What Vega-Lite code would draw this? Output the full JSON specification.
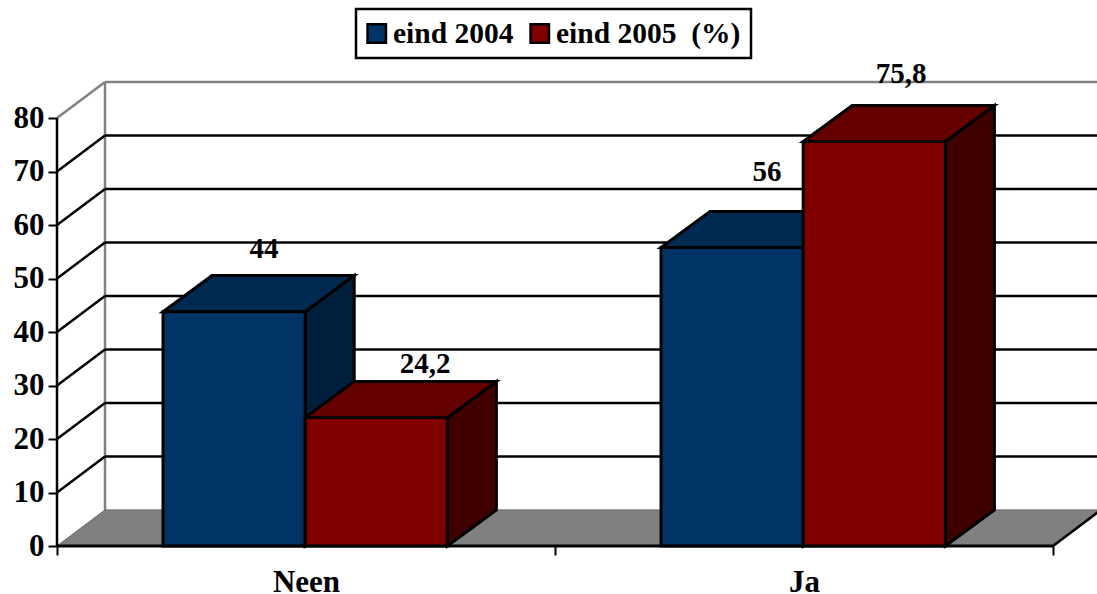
{
"$schema":"https://vega.github.io/schema/vega-lite/v6.json",
"width":1097,"height":594,"padding":0,"autosize":{"type":"none"},"background":"white",
"config":{"view":{"stroke":null},"legend":{"strokeWidth":2.5},"font":"Liberation Serif"},
"datasets":{
"bars":[
{"cat":"Neen","series":"eind 2004","value":44},
{"cat":"Neen","series":"eind 2005\u00a0 (%)\u00a0\u00a0","value":24.2},
{"cat":"Ja","series":"eind 2004","value":56},
{"cat":"Ja","series":"eind 2005\u00a0 (%)\u00a0\u00a0","value":75.8}],
"ticks":[{"v":0},{"v":10},{"v":20},{"v":30},{"v":40},{"v":50},{"v":60},{"v":70},{"v":80}]
},
"transform":[],
"encoding":{
"x":{"field":"px","type":"quantitative","scale":{"domain":[-0.11446,2.08835],"nice":false,"zero":false},"axis":{"orient":"bottom","offset":-48,"title":null,"domain":false,"grid":false,"values":[0,0.5,1,1.5,2],"tickSize":9,"tickWidth":2,"tickColor":"black","tickOpacity":{"condition":{"test":"datum.value==0.5||datum.value==1.5","value":0},"value":1},"labelExpr":"datum.value==0.5?'Neen':datum.value==1.5?'Ja':''","labelFont":"Liberation Serif","labelFontWeight":"bold","labelFontSize":31,"labelColor":"black","labelPadding":12,"labelOverlap":false,"labelFlush":false,"labelBound":false}},
"y":{"field":"py","type":"quantitative","scale":{"domain":[-8.97,102.06],"nice":false,"zero":false},"axis":{"orient":"left","offset":-57,"title":null,"domain":false,"grid":false,"values":[0,10,20,30,40,50,60,70,80],"tickSize":9,"tickWidth":2,"tickColor":"black","labelFont":"Liberation Serif","labelFontWeight":"bold","labelFontSize":31,"labelColor":"black","labelPadding":4,"labelOverlap":false,"labelBound":false}}
},
"layer":[
{"data":{"name":"ticks"},
 "transform":[{"filter":"datum.v==80"},{"calculate":"0.0964","as":"px"},{"calculate":"2.1","as":"px2"},{"calculate":"datum.v+6.75","as":"py"}],
 "mark":{"type":"rule","color":"#808080","strokeWidth":2.5},
 "encoding":{"x2":{"field":"px2"}}},
{"data":{"name":"ticks"},
 "transform":[{"filter":"datum.v==80"},{"calculate":"0.0964","as":"px"},{"calculate":"6.75","as":"py"},{"calculate":"datum.v+6.75","as":"py2"}],
 "mark":{"type":"rule","color":"#808080","strokeWidth":2.5},
 "encoding":{"y2":{"field":"py2"}}},
{"data":{"name":"ticks"},
 "transform":[{"filter":"datum.v==80"},{"calculate":"[0,1]","as":"t"},{"flatten":["t"]},{"calculate":"datum.t*0.0964","as":"px"},{"calculate":"datum.v+datum.t*6.75","as":"py"}],
 "mark":{"type":"line","color":"#808080","strokeWidth":2.5},
 "encoding":{}},
{"data":{"name":"ticks"},
 "transform":[{"filter":"datum.v>0&&datum.v<80"},{"calculate":"0.0964","as":"px"},{"calculate":"2.1","as":"px2"},{"calculate":"datum.v+6.75","as":"py"}],
 "mark":{"type":"rule","color":"black","strokeWidth":2.5},
 "encoding":{"x2":{"field":"px2"}}},
{"data":{"name":"ticks"},
 "transform":[{"filter":"datum.v>0&&datum.v<80"},{"calculate":"[0,1]","as":"t"},{"flatten":["t"]},{"calculate":"datum.t*0.0964","as":"px"},{"calculate":"datum.v+datum.t*6.75","as":"py"}],
 "mark":{"type":"line","color":"black","strokeWidth":2.5},
 "encoding":{"detail":{"field":"v"}}},
{"data":{"name":"ticks"},
 "transform":[{"filter":"datum.v==0"},{"calculate":"[0,1]","as":"t"},{"flatten":["t"]},{"calculate":"datum.t*0.0964","as":"px"},{"calculate":"2+datum.t*0.0964","as":"px2"},{"calculate":"datum.t*6.75","as":"py"}],
 "mark":{"type":"area","orient":"horizontal","fill":"#808080","stroke":"#666666","strokeWidth":1},
 "encoding":{"x2":{"field":"px2"}}},
{"data":{"name":"ticks"},
 "transform":[{"filter":"datum.v==0"},{"calculate":"[0,1]","as":"t"},{"flatten":["t"]},{"calculate":"2+datum.t*0.0964","as":"px"},{"calculate":"datum.t*6.75","as":"py"}],
 "mark":{"type":"line","color":"black","strokeWidth":2.5},
 "encoding":{}},
{"data":{"name":"ticks"},
 "transform":[{"filter":"datum.v==0"},{"calculate":"0","as":"px"},{"calculate":"0","as":"py"},{"calculate":"80","as":"py2"}],
 "mark":{"type":"rule","color":"black","strokeWidth":2.5},
 "encoding":{"y2":{"field":"py2"}}},
{"data":{"name":"ticks"},
 "transform":[{"filter":"datum.v==0"},{"calculate":"0","as":"px"},{"calculate":"2","as":"px2"},{"calculate":"0","as":"py"}],
 "mark":{"type":"rule","color":"black","strokeWidth":3},
 "encoding":{"x2":{"field":"px2"}}},
{"data":{"name":"bars"},
 "transform":[
  {"calculate":"(datum.cat=='Neen'?0.2129:1.2129)+(indexof(datum.series,'2004')>=0?0:0.2855)","as":"x0"},
  {"calculate":"datum.x0+0.2855","as":"x1"},
  {"calculate":"datum.cat+datum.series","as":"bar"},
  {"calculate":"indexof(datum.series,'2004')>=0?'#001f3d':'#400000'","as":"c"},
  {"calculate":"[0,1]","as":"t"},{"flatten":["t"]},
  {"calculate":"datum.x1+datum.t*0.0984","as":"px"},
  {"calculate":"datum.value-0.2+datum.t*6.75","as":"py"},
  {"calculate":"datum.t*6.75","as":"py2"}],
 "mark":{"type":"area","orient":"vertical","stroke":"black","strokeWidth":3,"opacity":1},
 "encoding":{"y2":{"field":"py2"},"detail":{"field":"bar"},"fill":{"field":"c","type":"nominal","scale":null},"tooltip":null}},
{"data":{"name":"bars"},
 "transform":[
  {"calculate":"(datum.cat=='Neen'?0.2129:1.2129)+(indexof(datum.series,'2004')>=0?0:0.2855)","as":"x0"},
  {"calculate":"datum.cat+datum.series","as":"bar"},
  {"calculate":"indexof(datum.series,'2004')>=0?'#002952':'#660000'","as":"c"},
  {"calculate":"[0,1]","as":"t"},{"flatten":["t"]},
  {"calculate":"datum.x0+datum.t*0.0984","as":"px"},
  {"calculate":"datum.px+0.2855","as":"px2"},
  {"calculate":"datum.value-0.2+datum.t*6.75","as":"py"}],
 "mark":{"type":"area","orient":"horizontal","stroke":"black","strokeWidth":3},
 "encoding":{"x2":{"field":"px2"},"detail":{"field":"bar"},"fill":{"field":"c","type":"nominal","scale":null}}},
{"data":{"name":"bars"},
 "transform":[
  {"calculate":"(datum.cat=='Neen'?0.2129:1.2129)+(indexof(datum.series,'2004')>=0?0:0.2855)","as":"px"},
  {"calculate":"datum.px+0.2855","as":"px2"},
  {"calculate":"datum.value-0.2","as":"py"},
  {"calculate":"0","as":"py2"}],
 "mark":{"type":"rect","stroke":"black","strokeWidth":3},
 "encoding":{"x2":{"field":"px2"},"y2":{"field":"py2"},
  "fill":{"field":"series","type":"nominal","scale":{"domain":["eind 2004","eind 2005\u00a0 (%)\u00a0\u00a0"],"range":["#003366","#800000"]},
   "legend":{"orient":"none","legendX":356,"legendY":9,"direction":"horizontal","title":null,"symbolType":"square","symbolSize":340,"symbolOffset":-4,"symbolStrokeColor":"black","symbolStrokeWidth":2.5,"symbolOpacity":1,"labelFont":"Liberation Serif","labelFontWeight":"bold","labelFontSize":29.5,"labelColor":"black","labelLimit":400,"labelOffset":1.5,"columnPadding":15,"padding":10,"strokeColor":"black","fillColor":"white","clipHeight":29}}}},
{"data":{"name":"bars"},
 "transform":[
  {"calculate":"{'Neen2004':0.4157,'Neen2005':0.7390,'Ja2004':1.4257,'Ja2005':1.6948}[datum.cat+(indexof(datum.series,'2004')>=0?'2004':'2005')]","as":"px"},
  {"calculate":"datum.value+{'Neen2004':11.6,'Neen2005':9.9,'Ja2004':14,'Ja2005':12.5}[datum.cat+(indexof(datum.series,'2004')>=0?'2004':'2005')]","as":"py"},
  {"calculate":"replace(format(datum.value,''),'.',',')","as":"lab"}],
 "mark":{"type":"text","font":"Liberation Serif","fontWeight":"bold","fontSize":29,"color":"black","align":"center","baseline":"middle"},
 "encoding":{"text":{"field":"lab"}}}
]
}
